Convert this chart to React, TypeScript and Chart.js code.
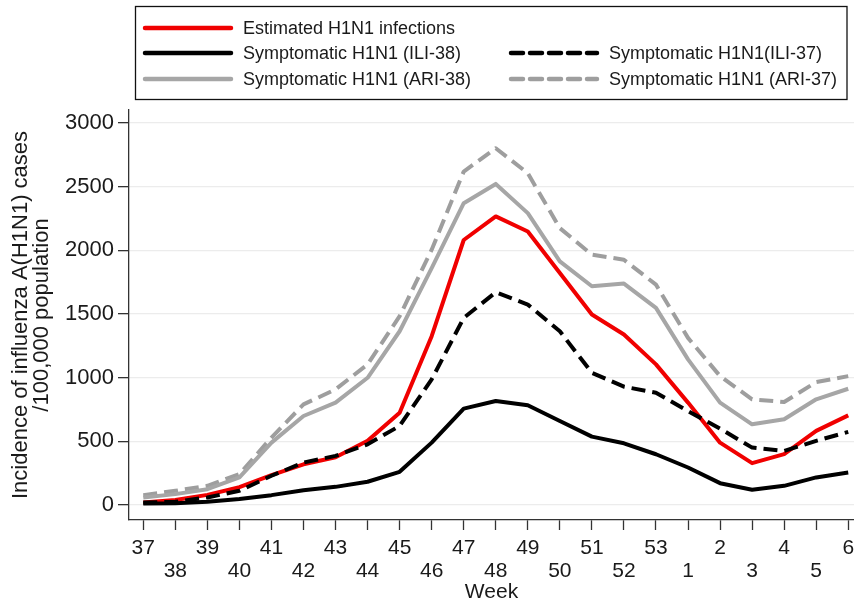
import React, { useEffect, useRef } from "react";
import { Chart, registerables } from "chart.js";

Chart.register(...registerables);

const weeks = ["37","38","39","40","41","42","43","44","45","46","47","48","49","50","51","52","53","1","2","3","4","5","6"];
const yTickValues = [0, 500, 1000, 1500, 2000, 2500, 3000];

const estimated = [20, 40, 80, 140, 235, 320, 375, 505, 725, 1325, 2080, 2265, 2147, 1821, 1495, 1338, 1104, 804, 490, 329, 400, 582, 704];
const ili38 = [13, 15, 26, 47, 78, 117, 143, 183, 261, 490, 757, 817, 783, 660, 537, 485, 399, 295, 172, 120, 151, 217, 255];
const ili37 = [20, 26, 60, 112, 230, 334, 386, 477, 621, 986, 1469, 1670, 1573, 1364, 1038, 929, 882, 738, 600, 451, 425, 504, 574];
const ari38 = [60, 86, 125, 217, 490, 699, 804, 999, 1364, 1860, 2369, 2520, 2291, 1912, 1717, 1738, 1547, 1143, 804, 634, 673, 830, 913];
const ari37 = [78, 112, 151, 243, 530, 790, 908, 1104, 1482, 2004, 2617, 2800, 2604, 2173, 1965, 1925, 1730, 1312, 1012, 830, 809, 965, 1012];

const seriesNames = [
  "Estimated H1N1 infections",
  "Symptomatic H1N1 (ILI-38)",
  "Symptomatic H1N1(ILI-37)",
  "Symptomatic H1N1 (ARI-38)",
  "Symptomatic H1N1 (ARI-37)",
];

const FONT = "'Liberation Sans', Arial, Helvetica, sans-serif";
const TEXT = "#1a1a1a";

const toPoints = (arr: number[]) => arr.map((v, i) => ({ x: i, y: v }));

const legendPlugin = {
  id: "customLegend",
  afterDraw(chart: any) {
    const ctx = chart.ctx as CanvasRenderingContext2D;
    ctx.save();
    ctx.strokeStyle = "#111";
    ctx.lineWidth = 1.3;
    ctx.strokeRect(135.5, 6.5, 711.5, 93);
    const slots = [
      { ds: 0, x: 145, y: 28 },
      { ds: 1, x: 145, y: 53 },
      { ds: 2, x: 511, y: 53 },
      { ds: 3, x: 145, y: 79 },
      { ds: 4, x: 511, y: 79 },
    ];
    ctx.font = "18px " + FONT;
    ctx.textBaseline = "middle";
    ctx.textAlign = "left";
    for (const s of slots) {
      const d = chart.data.datasets[s.ds];
      ctx.beginPath();
      ctx.strokeStyle = d.borderColor;
      ctx.lineWidth = 4.5;
      ctx.lineCap = "round";
      ctx.setLineDash(d.borderDash && d.borderDash.length ? [12, 7] : []);
      ctx.moveTo(s.x, s.y);
      ctx.lineTo(s.x + 86, s.y);
      ctx.stroke();
      ctx.setLineDash([]);
      ctx.fillStyle = TEXT;
      ctx.fillText(d.label, s.x + 98, s.y + 1);
    }
    ctx.restore();
  },
};

export default function App() {
  const ref = useRef<HTMLCanvasElement | null>(null);
  useEffect(() => {
    document.body.style.margin = "0";
    const canvas = ref.current!;
    const chart = new Chart(canvas, {
      type: "line",
      data: {
        datasets: [
          { label: seriesNames[0], data: toPoints(estimated), borderColor: "#f00000", borderWidth: 4, order: 2 },
          { label: seriesNames[1], data: toPoints(ili38), borderColor: "#000000", borderWidth: 4, order: 1 },
          { label: seriesNames[2], data: toPoints(ili37), borderColor: "#000000", borderWidth: 4, borderDash: [14, 7], order: 0 },
          { label: seriesNames[3], data: toPoints(ari38), borderColor: "#a6a6a6", borderWidth: 4, order: 3 },
          { label: seriesNames[4], data: toPoints(ari37), borderColor: "#9e9e9e", borderWidth: 4, borderDash: [14, 7], order: 4 },
        ] as any,
      },
      options: {
        animation: false,
        responsive: false,
        maintainAspectRatio: false,
        layout: { padding: { top: 110, left: 0, right: 0, bottom: 0 } },
        elements: { point: { radius: 0 }, line: { tension: 0, borderJoinStyle: "round" } },
        plugins: { legend: { display: false }, tooltip: { enabled: false } },
        scales: {
          x: {
            type: "linear",
            min: -0.446,
            max: 22.18,
            afterBuildTicks: (s: any) => { s.ticks = weeks.map((_, i) => ({ value: i })); },
            afterFit: (s: any) => { s.height = 85; s.paddingLeft = 0; s.paddingRight = 0; },
            border: { color: "#333", width: 1.3 },
            grid: { drawOnChartArea: false, drawTicks: true, tickLength: 10, tickColor: "#333", tickWidth: 1.3 },
            ticks: {
              autoSkip: false,
              maxRotation: 0,
              padding: 6,
              color: TEXT,
              font: { family: FONT, size: 21, lineHeight: 1.12 },
              callback: (v: any) => {
                const i = Math.round(Number(v));
                const lab = weeks[i];
                if (lab === undefined) return "";
                return i % 2 === 0 ? [lab, ""] : ["", lab];
              },
            },
            title: {
              display: true,
              text: "Week",
              color: TEXT,
              font: { family: FONT, size: 21, lineHeight: 1.2 },
              padding: { top: 0, bottom: 0 },
            },
          },
          y: {
            type: "linear",
            min: -117,
            max: 3100,
            afterBuildTicks: (s: any) => { s.ticks = yTickValues.map((v) => ({ value: v })); },
            afterFit: (s: any) => { s.width = 129; s.paddingTop = 0; s.paddingBottom = 0; },
            border: { color: "#333", width: 1.3 },
            grid: { color: "#ececec", lineWidth: 1.3, tickLength: 11, tickColor: "#333", tickWidth: 1.3 },
            ticks: {
              autoSkip: false,
              padding: 4,
              color: TEXT,
              font: { family: FONT, size: 22 },
              callback: (v: any) => String(v),
            },
            title: {
              display: true,
              text: ["Incidence of influenza A(H1N1) cases", "/100,000 population"],
              color: TEXT,
              font: { family: FONT, size: 22, lineHeight: 0.96 },
              padding: { top: 10.5, bottom: 0 },
            },
          },
        },
      } as any,
      plugins: [legendPlugin],
    });
    return () => chart.destroy();
  }, []);
  return <canvas ref={ref} width={854} height={605} style={{ display: "block" }} />;
}
